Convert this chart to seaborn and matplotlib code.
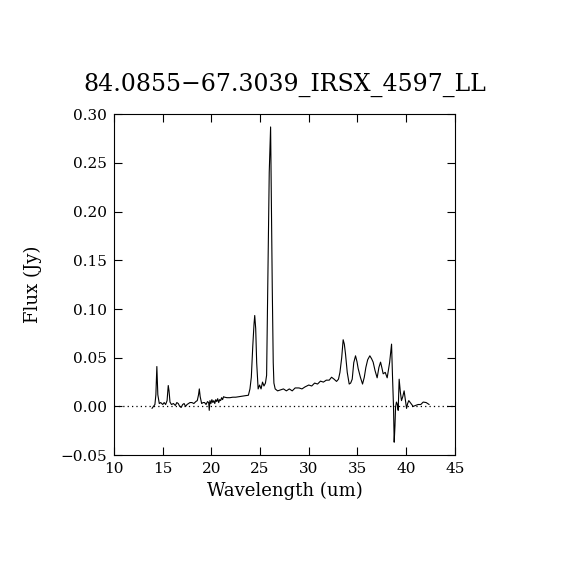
import numpy as np
import pandas as pd
import matplotlib
matplotlib.use("Agg")
import matplotlib.pyplot as plt
import seaborn as sns

title = "84.0855\u221267.3039_IRSX_4597_LL"

wavelength = [
    13.9, 14.05, 14.2, 14.3, 14.4, 14.5, 14.65, 14.8, 15.0, 15.15, 15.3, 15.45,
    15.57, 15.65, 15.75, 15.9, 16.1, 16.3, 16.45, 16.6, 16.75, 16.9, 17.05, 17.2,
    17.35, 17.5, 17.65, 17.8, 18.0, 18.2, 18.4, 18.55, 18.68, 18.76, 18.85, 19.0,
    19.15, 19.3, 19.45, 19.6, 19.72, 19.78, 19.85, 19.95, 20.05, 20.15, 20.25, 20.35,
    20.45, 20.55, 20.65, 20.75, 20.85, 20.95, 21.05, 21.15, 21.25, 21.35, 21.6, 21.9,
    22.2, 22.5, 22.8, 23.1, 23.45, 23.8, 23.96, 24.1, 24.25, 24.38, 24.45, 24.55,
    24.65, 24.8, 24.95, 25.1, 25.25, 25.4, 25.55, 25.67, 25.8, 25.94, 26.08, 26.17,
    26.25, 26.35, 26.42, 26.55, 26.8, 27.1, 27.4, 27.7, 28.0, 28.3, 28.6, 29.0,
    29.3, 29.6, 30.0, 30.3, 30.6, 30.9, 31.2, 31.5, 31.8, 32.1, 32.34, 32.6,
    32.85, 33.05, 33.2, 33.38, 33.53, 33.65, 33.77, 33.95, 34.15, 34.3, 34.46, 34.62,
    34.8, 34.95, 35.07, 35.3, 35.52, 35.7, 35.86, 36.05, 36.27, 36.45, 36.61, 36.8,
    37.02, 37.2, 37.37, 37.5, 37.64, 37.85, 38.05, 38.3, 38.5, 38.6, 38.7, 38.77,
    38.85, 38.91, 39.0, 39.1, 39.18, 39.28, 39.4, 39.52, 39.65, 39.79, 39.9, 40.04,
    40.15, 40.27, 40.5, 40.72, 40.95, 41.23, 41.5, 41.75, 42.05, 42.36,
]

flux = [
    -0.002, 0.0, 0.002, 0.012, 0.041, 0.012, 0.003, 0.004, 0.002, 0.004, 0.002, 0.006,
    0.0215, 0.016, 0.0045, 0.002, 0.003, 0.001, 0.004, 0.003, 0.0, -0.001, 0.002, 0.003,
    0.0, 0.002, 0.003, 0.004, 0.004, 0.003, 0.005, 0.006, 0.012, 0.018, 0.010, 0.003,
    0.004, 0.004, 0.002, 0.005, 0.004, -0.004, 0.006, 0.003, 0.007, 0.004, 0.006, 0.003,
    0.007, 0.005, 0.008, 0.004, 0.007, 0.006, 0.009, 0.007, 0.010, 0.0095, 0.009, 0.009,
    0.0095, 0.0095, 0.010, 0.0105, 0.011, 0.0115, 0.018, 0.030, 0.062, 0.085, 0.0934, 0.080,
    0.045, 0.018, 0.022, 0.018, 0.025, 0.021, 0.024, 0.032, 0.130, 0.2405, 0.287, 0.200,
    0.1225, 0.045, 0.024, 0.018, 0.016, 0.017, 0.018, 0.016, 0.018, 0.016, 0.019, 0.019,
    0.018, 0.020, 0.022, 0.021, 0.024, 0.023, 0.026, 0.025, 0.027, 0.027, 0.030, 0.028,
    0.0257, 0.028, 0.035, 0.050, 0.0685, 0.064, 0.054, 0.035, 0.023, 0.024, 0.028, 0.045,
    0.052, 0.046, 0.039, 0.030, 0.023, 0.030, 0.040, 0.048, 0.052, 0.049, 0.0455, 0.037,
    0.0294, 0.040, 0.0455, 0.040, 0.0335, 0.035, 0.0294, 0.045, 0.064, 0.030, 0.0, -0.0367,
    -0.020, -0.001, 0.0045, 0.002, -0.004, 0.028, 0.015, 0.006, 0.010, 0.016, 0.008, -0.002,
    0.003, 0.006, 0.003, 0.0, 0.001, 0.002, 0.002, 0.0045, 0.004, 0.002,
]

spec = pd.DataFrame({"Wavelength": wavelength, "Flux": flux})

sns.set_style("ticks")
plt.rcParams["font.family"] = ["DejaVu Serif"]
plt.rcParams["text.color"] = "black"
plt.rcParams["axes.labelcolor"] = "black"

fig = plt.figure(figsize=(5.7, 5.7), dpi=100)
ax = fig.add_axes([0.2, 0.2015, 0.598, 0.598])

sns.lineplot(data=spec, x="Wavelength", y="Flux", color="black",
             linewidth=0.8, sort=False, estimator=None, ax=ax)
ax.axhline(0.0, color="black", linewidth=0.9, linestyle=(0, (1, 2.5)))

ax.set_xlim(10, 45)
ax.set_ylim(-0.05, 0.30)
ax.set_xticks(np.arange(10, 46, 5))
ax.set_yticks(np.arange(-0.05, 0.31, 0.05))
ax.set_yticklabels(["\u22120.05", "0.00", "0.05", "0.10", "0.15", "0.20", "0.25", "0.30"])
ax.tick_params(direction="in", length=6, width=0.8, top=True, right=True,
               labelsize=11, colors="black", pad=5)
for s in ax.spines.values():
    s.set_linewidth(0.8)
    s.set_color("black")

ax.set_xlabel("Wavelength (um)", fontsize=13, labelpad=4, color="black")
ax.set_ylabel("Flux (Jy)", fontsize=13, labelpad=13, color="black")
ax.set_title(title, fontsize=17, pad=17, color="black")

fig.savefig("out.png", dpi=100, facecolor="white")
